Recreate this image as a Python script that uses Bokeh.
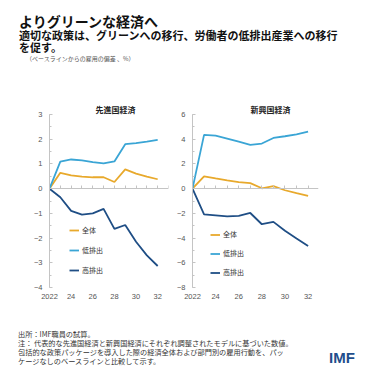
from bokeh.plotting import figure
from bokeh.models import (LinearAxis, SingleIntervalTicker, FixedTicker, Legend, LegendItem,
                          Title, Div)
from bokeh.layouts import column, row
from bokeh.embed import file_html
from bokeh.resources import INLINE

years = [2022, 2023, 2024, 2025, 2026, 2027, 2028, 2029, 2030, 2031, 2032]
tick_years = [2022, 2024, 2026, 2028, 2030, 2032]
tick_labels = ["2022", "24", "26", "28", "30", "32"]

adv_total = [0, 0.64, 0.54, 0.49, 0.46, 0.46, 0.27, 0.78, 0.61, 0.49, 0.38]
adv_low = [0, 1.09, 1.18, 1.14, 1.07, 1.02, 1.10, 1.80, 1.84, 1.90, 1.97]
adv_high = [0, -0.35, -0.90, -1.05, -1.00, -0.82, -1.63, -1.47, -2.15, -2.70, -3.13]

em_total = [0, 1.00, 0.83, 0.67, 0.53, 0.45, 0.03, 0.20, -0.13, -0.37, -0.59]
em_low = [0, 4.35, 4.29, 4.05, 3.80, 3.55, 3.65, 4.10, 4.24, 4.40, 4.61]
em_high = [0, -2.08, -2.16, -2.24, -2.21, -1.97, -2.88, -2.69, -3.41, -4.03, -4.64]

series_names = ["全体", "低排出", "高排出"]
colors = ["#E8A92C", "#3AA5D5", "#1F4E85"]

JP = "Noto Sans CJK JP"
NUM = "Liberation Sans"
AXC = "#c4c4c4"
TXT = "#555555"


def panel(title, total, low, high, yr, ystep, xend, width, bl, br, title_off, leg_loc, leg_h):
    p = figure(width=width, height=210, x_range=(2022, xend), y_range=yr,
               output_backend="svg", toolbar_location=None,
               x_axis_type=None, y_axis_type=None,
               min_border_left=bl, min_border_right=br, min_border_top=19, min_border_bottom=18)
    p.outline_line_color = None
    p.background_fill_color = "white"

    ya = LinearAxis(ticker=SingleIntervalTicker(interval=ystep, num_minor_ticks=2))
    ya.axis_line_color = AXC
    ya.major_tick_in = 3
    ya.major_tick_out = 0
    ya.minor_tick_in = 2
    ya.minor_tick_out = 0
    ya.major_tick_line_color = AXC
    ya.minor_tick_line_color = AXC
    ya.major_label_text_font = NUM
    ya.major_label_text_font_size = "7.5px"
    ya.major_label_text_color = TXT
    ya.major_label_standoff = 7
    p.add_layout(ya, "left")

    za = LinearAxis(ticker=SingleIntervalTicker(interval=1, num_minor_ticks=0), fixed_location=0,
                    major_label_overrides={y: "" for y in range(2022, 2034)})
    za.axis_line_color = AXC
    za.major_tick_in = 3
    za.major_tick_out = 0
    za.major_tick_line_color = AXC
    za.minor_tick_line_color = None
    za.major_label_text_font_size = "1px"
    za.major_label_standoff = 0
    p.add_layout(za, "below")

    xa = LinearAxis(ticker=FixedTicker(ticks=tick_years),
                    major_label_overrides={y: l for y, l in zip(tick_years, tick_labels)})
    xa.axis_line_color = None
    xa.major_tick_line_color = None
    xa.minor_tick_line_color = None
    xa.major_tick_in = 0
    xa.major_tick_out = 0
    xa.major_label_text_font = NUM
    xa.major_label_text_font_size = "7.5px"
    xa.major_label_text_color = TXT
    xa.major_label_standoff = 6
    p.add_layout(xa, "below")

    rs = []
    for vals, c in zip([total, low, high], colors):
        rs.append(p.line(years, vals, line_color=c, line_width=1.8))

    leg = Legend(items=[LegendItem(label=n, renderers=[r]) for n, r in zip(series_names, rs)],
                 location=leg_loc, orientation="vertical")
    leg.padding = 0
    leg.margin = 0
    leg.spacing = 0
    leg.glyph_width = 10
    leg.glyph_height = leg_h
    leg.label_height = leg_h
    leg.label_standoff = 3
    leg.label_text_font = JP
    leg.label_text_font_size = "7px"
    leg.label_text_color = "#333333"
    leg.border_line_color = None
    leg.background_fill_alpha = 0
    p.add_layout(leg, "center")

    t = Title(text=title, align="left", offset=title_off, standoff=0,
              text_font=JP, text_font_size="8px", text_font_style="bold", text_color="#222222")
    p.add_layout(t, "above")
    return p


pl = panel("先進国経済", adv_total, adv_low, adv_high, (-4, 3), 1, 2033, 165, 41, 5,
           46, (20, 7), 20)
pr = panel("新興国経済", em_total, em_low, em_high, (-8, 6), 2, 2032.9, 198, 19, 53,
           58, (18, 5.5), 19)

header = Div(width=363, height=87, margin=0, text="""
<div style="position:relative;width:363px;height:87px;font-family:'Noto Sans CJK JP';color:#111;">
 <div style="position:absolute;left:11px;top:6px;font-size:14px;font-weight:bold;line-height:14px;white-space:nowrap;">よりグリーンな経済へ</div>
 <div style="position:absolute;left:11px;top:21px;font-size:11px;font-weight:bold;line-height:12px;white-space:nowrap;">適切な政策は、グリーンへの移行、労働者の低排出産業への移行<br>を促す。</div>
 <div style="position:absolute;left:18px;top:47px;font-size:6px;line-height:8px;color:#555;white-space:nowrap;">（ベースラインからの雇用の偏差 、%）</div>
</div>""")

footer = Div(width=363, height=66, margin=0, text="""
<div style="position:relative;width:363px;height:66px;font-family:'Noto Sans CJK JP';color:#333;">
 <div style="position:absolute;left:10px;top:25px;font-size:7.2px;line-height:9px;white-space:nowrap;">出所：IMF職員の試算。<br>注： 代表的な先進国経済と新興国経済にそれぞれ調整されたモデルに基づいた数値。<br>包括的な政策パッケージを導入した際の経済全体および部門別の雇用行動を、パッ<br>ケージなしのベースラインと比較して示す。</div>
 <div style="position:absolute;left:321px;top:45px;font-family:'Liberation Sans';font-size:15px;font-weight:bold;line-height:16px;color:#1F4E8C;">IMF</div>
</div>""")

layout = column(header, row(pl, pr, spacing=0), footer, spacing=0, margin=(8, 8, 8, 8))
open("out.html", "w").write(file_html(layout, INLINE))
